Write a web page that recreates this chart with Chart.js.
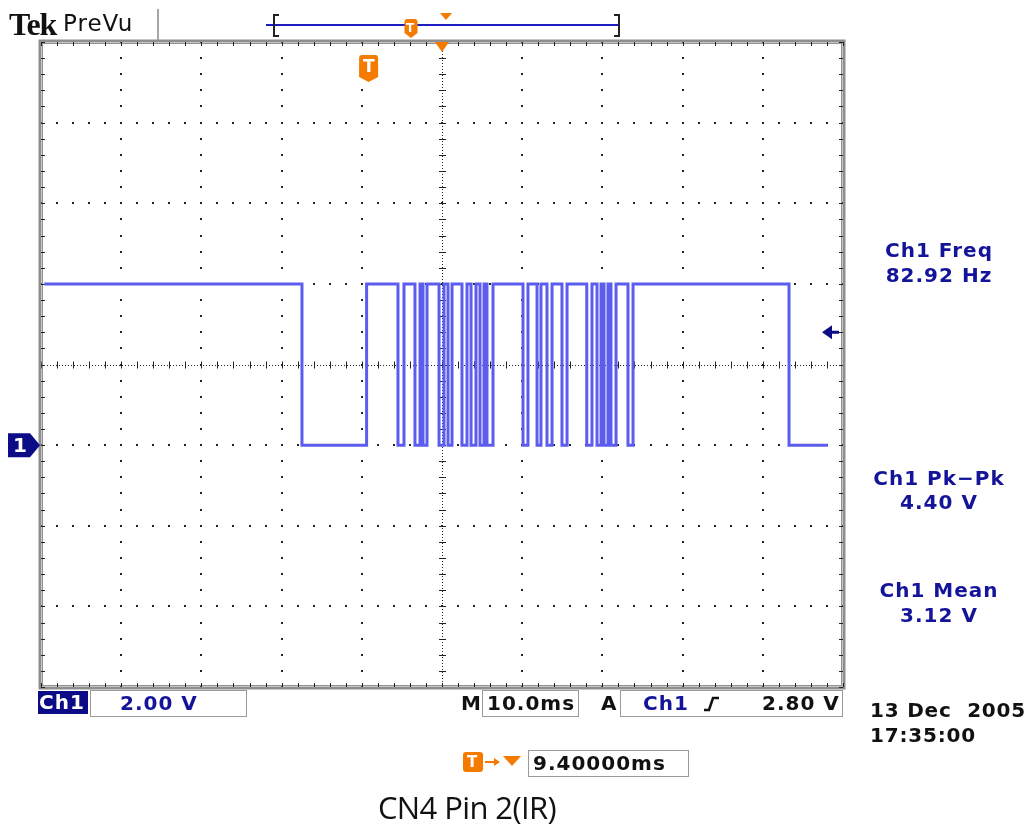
<!DOCTYPE html>
<html>
<head>
<meta charset="utf-8">
<script src="https://cdn.jsdelivr.net/npm/chart.js@4.4.1/dist/chart.umd.min.js"></script>
<style>
  html, body { margin: 0; padding: 0; background: #fff; }
  #wrap { position: relative; width: 1031px; height: 826px; overflow: hidden; background: #fff; }
  #c { position: absolute; left: 0; top: 0; }
  .t { position: absolute; white-space: pre; line-height: 1; font-family: "DejaVu Sans", sans-serif; font-weight: bold; font-size: 20px; letter-spacing: 1px; }
  .navy { color: #14149a; }
  .blk { color: #111; }
  .box { position: absolute; border: 1.5px solid #9a9a9a; box-sizing: border-box; }
  .ctr { text-align: center; }
</style>
</head>
<body>
<div id="wrap">
  <canvas id="c" width="1031" height="826"></canvas>

  <!-- header -->
  <div class="t blk" style="left:9px;top:8px;font-family:'Liberation Serif',serif;font-weight:900;font-size:32px;letter-spacing:-1px;">Tek</div>
  <div class="t blk" style="left:63px;top:12px;font-weight:normal;font-size:23px;letter-spacing:1px;">PreVu</div>

  <!-- measurements -->
  <div class="t navy ctr" style="left:839px;top:240px;width:200px;">Ch1 Freq</div>
  <div class="t navy ctr" style="left:839px;top:265px;width:200px;">82.92 Hz</div>
  <div class="t navy ctr" style="left:839px;top:468px;width:200px;">Ch1 Pk−Pk</div>
  <div class="t navy ctr" style="left:839px;top:492px;width:200px;">4.40 V</div>
  <div class="t navy ctr" style="left:839px;top:580px;width:200px;">Ch1 Mean</div>
  <div class="t navy ctr" style="left:839px;top:605px;width:200px;">3.12 V</div>

  <!-- status bar -->
  <div style="position:absolute;left:38px;top:691px;width:50px;height:23px;background:#0c0c86;"></div>
  <div class="t" style="left:39px;top:692px;color:#fff;">Ch1</div>
  <div class="box" style="left:90px;top:690px;width:157px;height:27px;"></div>
  <div class="t navy" style="left:120px;top:693px;">2.00 V</div>
  <div class="t blk" style="left:461px;top:693px;">M</div>
  <div class="box" style="left:482px;top:690px;width:97px;height:27px;"></div>
  <div class="t blk" style="left:487px;top:693px;">10.0ms</div>
  <div class="t blk" style="left:601px;top:693px;">A</div>
  <div class="box" style="left:620px;top:690px;width:223px;height:27px;"></div>
  <div class="t navy" style="left:643px;top:693px;">Ch1</div>
  <div class="t blk" style="left:762px;top:693px;">2.80 V</div>

  <div class="t blk" style="left:870px;top:700px;letter-spacing:0.8px;">13 Dec  2005</div>
  <div class="t blk" style="left:870px;top:725px;letter-spacing:0.8px;">17:35:00</div>

  <div class="box" style="left:528px;top:750px;width:161px;height:27px;"></div>
  <div class="t blk" style="left:533px;top:753px;">9.40000ms</div>

  <!-- icon glyphs -->
  <div class="t" style="left:363px;top:58px;color:#fff;font-size:17px;letter-spacing:0;">T</div>
  <div class="t" style="left:406px;top:22px;color:#fff;font-size:12px;letter-spacing:0;">T</div>
  <div class="t" style="left:467px;top:755px;color:#fff;font-size:15px;letter-spacing:0;">T</div>
  <div class="t" style="left:13px;top:435px;color:#fff;font-size:20px;letter-spacing:0;">1</div>

  <div class="t blk ctr" style="left:267px;top:792px;width:400px;font-family:'Open Sans',sans-serif;font-weight:normal;font-size:31px;letter-spacing:-0.6px;">CN4 Pin 2(IR)</div>
</div>

<script>
// ---- scope settings ----
const timePerDivMs = 10.0;        // M 10.0ms
const voltsPerDiv = 2.00;         // Ch1 2.00 V
const triggerDelayMs = 9.40;      // screen centre relative to trigger
const triggerLevelV = 2.80;       // A Ch1 rising 2.80 V
const divisionsX = 10;
const divisionsY = 8;
const groundDivBelowCentre = 1;   // Ch1 ground marker position

// ---- waveform (IR remote burst), times in ms relative to trigger ----
const traceStartMs = -40.2;
const traceEndMs = 57.5;
const startLevelV = 4.0;
const transitionMs = [
  -8.06, 0.00,
  3.91, 4.66, 6.03, 6.66, 7.03, 7.53, 9.03, 9.65, 10.15, 10.65,
  11.89, 12.52, 13.02, 13.64, 14.14, 14.64, 15.01, 15.76,
  19.50, 20.12, 21.25, 21.74, 22.49, 23.12, 24.36, 24.99,
  27.45, 28.10, 28.73, 29.23, 29.60, 30.10, 30.47, 31.10, 32.59, 33.22,
  52.67
];
const levelAfterV = [
  0.0, 4.0,
  0.0, 4.0, 0.0, 4.0, 0.0, 4.0, 0.0, 4.0, 0.0, 4.0,
  0.0, 4.0, 0.0, 4.0, 0.0, 4.0, 0.0, 4.0,
  0.0, 4.0, 0.0, 4.0, 0.0, 4.0, 0.0, 4.0,
  0.0, 4.0, 0.0, 4.0, 0.0, 4.0, 0.0, 4.0, 0.0, 4.0,
  0.0
];

// ---- derived axis ranges ----
const xMinMs = triggerDelayMs - timePerDivMs * divisionsX / 2;
const xMaxMs = triggerDelayMs + timePerDivMs * divisionsX / 2;
const yMinV = -(divisionsY / 2 - groundDivBelowCentre) * voltsPerDiv;
const yMaxV = (divisionsY / 2 + groundDivBelowCentre) * voltsPerDiv;

const points = [{x: traceStartMs, y: startLevelV}];
let prev = startLevelV;
transitionMs.forEach((t, i) => {
  points.push({x: t, y: prev});
  points.push({x: t, y: levelAfterV[i]});
  prev = levelAfterV[i];
});
points.push({x: traceEndMs, y: prev});

const ORANGE = '#f47a00';
const NAVY = '#0c0c86';

function tMarker(ctx, cx, top, w, h) {
  const r = 3, x0 = cx - w / 2, x1 = cx + w / 2, yb = top + h;
  ctx.beginPath();
  ctx.moveTo(x0 + r, top);
  ctx.lineTo(x1 - r, top);
  ctx.quadraticCurveTo(x1, top, x1, top + r);
  ctx.lineTo(x1, yb - 5);
  ctx.lineTo(cx, yb);
  ctx.lineTo(x0, yb - 5);
  ctx.lineTo(x0, top + r);
  ctx.quadraticCurveTo(x0, top, x0 + r, top);
  ctx.closePath();
  ctx.fillStyle = ORANGE;
  ctx.fill();
}
function downTri(ctx, cx, top, w, h) {
  ctx.beginPath();
  ctx.moveTo(cx - w / 2, top);
  ctx.lineTo(cx + w / 2, top);
  ctx.lineTo(cx, top + h);
  ctx.closePath();
  ctx.fillStyle = ORANGE;
  ctx.fill();
}

const scopePlugin = {
  id: 'scope',
  beforeDatasetsDraw(chart) {
    const {ctx, chartArea: a, scales: {x, y}} = chart;
    ctx.save();
    const xMaj = [], yMaj = [], xMinr = [], yMinr = [];
    for (let k = 0; k <= divisionsX; k++) xMaj.push(x.getPixelForValue(xMinMs + k * timePerDivMs));
    for (let k = 0; k <= divisionsY; k++) yMaj.push(y.getPixelForValue(yMinV + k * voltsPerDiv));
    for (let k = 0; k <= divisionsX * 5; k++) xMinr.push(x.getPixelForValue(xMinMs + k * timePerDivMs / 5));
    for (let k = 0; k <= divisionsY * 5; k++) yMinr.push(y.getPixelForValue(yMinV + k * voltsPerDiv / 5));
    const cx = xMaj[divisionsX / 2], cy = yMaj[divisionsY / 2];

    // dotted graticule
    ctx.fillStyle = '#222';
    for (let i = 1; i < divisionsX; i++) {
      if (i === divisionsX / 2) continue;
      for (const py of yMinr) ctx.fillRect(Math.round(xMaj[i]) - 1, Math.round(py) - 1, 2, 2);
    }
    for (let j = 1; j < divisionsY; j++) {
      if (j === divisionsY / 2) continue;
      for (const px of xMinr) ctx.fillRect(Math.round(px) - 1, Math.round(yMaj[j]) - 1, 2, 2);
    }
    // centre cross
    ctx.strokeStyle = '#222';
    ctx.lineWidth = 1;
    ctx.setLineDash([1, 2]);
    ctx.beginPath();
    ctx.moveTo(Math.round(cx) + 0.5, a.top); ctx.lineTo(Math.round(cx) + 0.5, a.bottom);
    ctx.moveTo(a.left, Math.round(cy) + 0.5); ctx.lineTo(a.right, Math.round(cy) + 0.5);
    ctx.stroke();
    ctx.setLineDash([]);
    ctx.beginPath();
    for (const py of yMinr) { ctx.moveTo(cx - 3, Math.round(py) + 0.5); ctx.lineTo(cx + 4, Math.round(py) + 0.5); }
    for (const px of xMinr) { ctx.moveTo(Math.round(px) + 0.5, cy - 3); ctx.lineTo(Math.round(px) + 0.5, cy + 4); }
    ctx.stroke();

    // border
    ctx.strokeStyle = '#8e8e8e';
    ctx.lineWidth = 3;
    ctx.strokeRect(a.left - 1, a.top - 1, a.right - a.left + 2, a.bottom - a.top + 2);
    ctx.strokeStyle = '#222';
    ctx.lineWidth = 1;
    ctx.beginPath();
    for (const px of xMinr) {
      const p = Math.round(px) + 0.5;
      ctx.moveTo(p, a.top); ctx.lineTo(p, a.top + 4);
      ctx.moveTo(p, a.bottom); ctx.lineTo(p, a.bottom - 4);
    }
    for (const py of yMinr) {
      const p = Math.round(py) + 0.5;
      ctx.moveTo(a.left, p); ctx.lineTo(a.left + 4, p);
      ctx.moveTo(a.right, p); ctx.lineTo(a.right - 4, p);
    }
    ctx.stroke();
    ctx.setLineDash([1, 1]);
    ctx.beginPath();
    ctx.moveTo(a.left + 1.5, a.top + 1.5); ctx.lineTo(a.right - 1.5, a.top + 1.5);
    ctx.lineTo(a.right - 1.5, a.bottom - 1.5); ctx.lineTo(a.left + 1.5, a.bottom - 1.5); ctx.closePath();
    ctx.stroke();
    ctx.setLineDash([]);
    ctx.restore();
  },
  afterDatasetsDraw(chart) {
    const {ctx, chartArea: a, scales: {x, y}} = chart;
    ctx.save();
    // header separator and record view
    ctx.strokeStyle = '#8a8a8a'; ctx.lineWidth = 1.5;
    ctx.beginPath(); ctx.moveTo(158, 9); ctx.lineTo(158, 40); ctx.stroke();
    ctx.strokeStyle = '#1c1cc0'; ctx.lineWidth = 2;
    ctx.beginPath(); ctx.moveTo(266, 25); ctx.lineTo(618, 25); ctx.stroke();
    ctx.strokeStyle = '#222'; ctx.lineWidth = 2;
    ctx.beginPath();
    ctx.moveTo(279, 15); ctx.lineTo(274, 15); ctx.lineTo(274, 36); ctx.lineTo(279, 36);
    ctx.moveTo(614, 15); ctx.lineTo(619, 15); ctx.lineTo(619, 36); ctx.lineTo(614, 36);
    ctx.stroke();
    tMarker(ctx, 411, 19, 13, 19);
    downTri(ctx, 446, 13, 12, 7);

    // trigger position markers on graticule
    downTri(ctx, x.getPixelForValue(triggerDelayMs), a.top, 14, 10);
    tMarker(ctx, x.getPixelForValue(0) + 2, 55, 19, 27);

    // trigger level arrow (right side)
    const ty = y.getPixelForValue(triggerLevelV);
    ctx.fillStyle = NAVY; ctx.strokeStyle = NAVY;
    ctx.beginPath(); ctx.moveTo(822, ty); ctx.lineTo(832, ty - 7); ctx.lineTo(832, ty + 7); ctx.closePath(); ctx.fill();
    ctx.lineWidth = 3; ctx.beginPath(); ctx.moveTo(830, ty); ctx.lineTo(839, ty); ctx.stroke();

    // channel 1 ground marker
    const gy = y.getPixelForValue(0);
    ctx.beginPath();
    ctx.moveTo(8, gy - 12); ctx.lineTo(30, gy - 12); ctx.lineTo(40, gy);
    ctx.lineTo(30, gy + 12); ctx.lineTo(8, gy + 12); ctx.closePath();
    ctx.fillStyle = NAVY; ctx.fill();

    // rising slope symbol in trigger box
    ctx.strokeStyle = '#111'; ctx.lineWidth = 2.5;
    ctx.beginPath(); ctx.moveTo(704, 710); ctx.lineTo(709, 710); ctx.lineTo(713, 698); ctx.lineTo(719, 698); ctx.stroke();

    // T -> delay icon
    ctx.fillStyle = ORANGE;
    ctx.beginPath();
    if (ctx.roundRect) ctx.roundRect(463, 752, 20, 20, 3); else ctx.rect(463, 752, 20, 20);
    ctx.fill();
    ctx.strokeStyle = ORANGE; ctx.lineWidth = 2;
    ctx.beginPath(); ctx.moveTo(485, 762); ctx.lineTo(497, 762); ctx.stroke();
    ctx.beginPath(); ctx.moveTo(500, 762); ctx.lineTo(494, 758); ctx.lineTo(494, 766); ctx.closePath(); ctx.fill();
    downTri(ctx, 512, 756, 18, 10);
    ctx.restore();
  }
};

new Chart(document.getElementById('c'), {
  type: 'line',
  data: {
    datasets: [{
      data: points,
      borderColor: '#5c5cee',
      borderWidth: 3,
      pointRadius: 0,
      tension: 0,
      fill: false
    }]
  },
  options: {
    responsive: false,
    animation: false,
    events: [],
    layout: { padding: { left: 41, top: 42, right: 188, bottom: 139 } },
    scales: {
      x: { type: 'linear', min: xMinMs, max: xMaxMs, display: false },
      y: { type: 'linear', min: yMinV, max: yMaxV, display: false }
    },
    plugins: { legend: { display: false }, tooltip: { enabled: false }, title: { display: false } }
  },
  plugins: [scopePlugin]
});
</script>
</body>
</html>
